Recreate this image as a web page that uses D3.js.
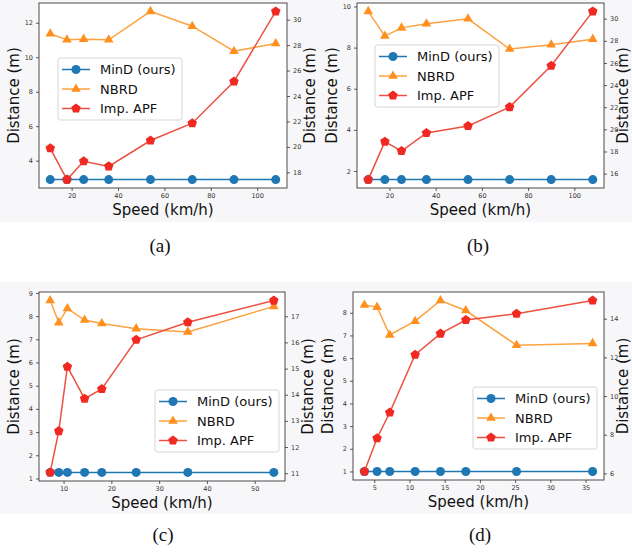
<!DOCTYPE html>
<html>
<head>
<meta charset="utf-8">
<script src="https://cdn.jsdelivr.net/npm/d3@7"></script>
<style>
  body { margin: 0; background: #fff; }
  svg { display: block; }
</style>
</head>
<body>
<svg id="fig" width="632" height="552"></svg>
<script>
// speeds (km/h) for each panel
const speedsAB = [10.8, 18, 25.2, 36, 54, 72, 90, 108];
const speedsC = [7.2, 9, 10.8, 14.4, 18, 25.2, 36, 54];
const speedsD = [3.6, 5.4, 7.2, 10.8, 14.4, 18, 25.2, 36];

// MinD (ours) - left axis
const mindA = [2.9, 2.9, 2.9, 2.9, 2.9, 2.9, 2.9, 2.9];
const mindB = [1.58, 1.58, 1.58, 1.58, 1.58, 1.58, 1.58, 1.58];
const mindC = [1.26, 1.26, 1.26, 1.26, 1.26, 1.26, 1.26, 1.26];
const mindD = [1.0, 1.0, 1.0, 1.0, 1.0, 1.0, 1.0, 1.0];

// NBRD - left axis
const nbrdA = [11.36, 11.01, 11.05, 11.01, 12.66, 11.8, 10.35, 10.8];
const nbrdB = [9.76, 8.56, 8.96, 9.16, 9.4, 7.93, 8.14, 8.41];
const nbrdC = [8.67, 7.72, 8.33, 7.83, 7.68, 7.46, 7.32, 8.42];
const nbrdD = [8.34, 8.25, 7.02, 7.63, 8.54, 8.1, 6.57, 6.65];

// Imp. APF - right axis
const apfA = [19.89, 17.43, 18.87, 18.47, 20.5, 21.86, 25.14, 30.65];
const apfB = [15.46, 18.89, 18.04, 19.67, 20.3, 22.01, 25.75, 30.66];
const apfC = [11.03, 12.61, 15.07, 13.85, 14.22, 16.1, 16.77, 17.6];
const apfD = [6.1, 7.82, 9.15, 12.14, 13.23, 13.93, 14.26, 14.94];

// tick labels
const xTicksAB = [20, 40, 60, 80, 100];
const xTicksC = [10, 20, 30, 40, 50];
const xTicksD = [5, 10, 15, 20, 25, 30, 35];
const leftTicksA = [4, 6, 8, 10, 12];
const leftTicksB = [2, 4, 6, 8, 10];
const leftTicksC = [1, 2, 3, 4, 5, 6, 7, 8, 9];
const leftTicksD = [1, 2, 3, 4, 5, 6, 7, 8];
const rightTicksA = [18, 20, 22, 24, 26, 28, 30];
const rightTicksB = [16, 18, 20, 22, 24, 26, 28, 30];
const rightTicksC = [11, 12, 13, 14, 15, 16, 17];
const rightTicksD = [6, 8, 10, 12, 14];

const seriesNames = ['MinD (ours)', 'NBRD', 'Imp. APF'];
const captions = ['(a)', '(b)', '(c)', '(d)'];

const blue = '#1f77b4', orange = '#ff8f1f', red = '#f02a22';
const orangeLine = '#fca23f', redLine = '#ec5040';
const font = '"DejaVu Sans", sans-serif';

// panel boxes (plot area) and extras
const panels = [
  { speeds: speedsAB, mind: mindA, nbrd: nbrdA, apf: apfA, xt: xTicksAB, lt: leftTicksA, rt: rightTicksA,
    l: 39, r: 287, t: 3, b: 188, rl: 28, bg: [0, 0, 316, 222], leg: [58, 58], cap: [160, 252] },
  { speeds: speedsAB, mind: mindB, nbrd: nbrdB, apf: apfB, xt: xTicksAB, lt: leftTicksB, rt: rightTicksB,
    l: 357, r: 604, t: 3, b: 188, rl: 24, bg: [316, 0, 316, 222], leg: [375, 45], cap: [478, 252] },
  { speeds: speedsC, mind: mindC, nbrd: nbrdC, apf: apfC, xt: xTicksC, lt: leftTicksC, rt: rightTicksC,
    l: 39, r: 285, t: 292, b: 481, rl: 28, bg: [0, 282, 316, 232], leg: [155, 390], cap: [163, 541] },
  { speeds: speedsD, mind: mindD, nbrd: nbrdD, apf: apfD, xt: xTicksD, lt: leftTicksD, rt: rightTicksD,
    l: 353, r: 604, t: 292, b: 480, rl: 24, bg: [316, 282, 316, 232], leg: [473, 387], cap: [480, 541] }
];

const svg = d3.select('#fig');

// matplotlib-like 5% margins
function padded(ext) {
  const m = (ext[1] - ext[0]) * 0.05;
  return [ext[0] - m, ext[1] + m];
}

// marker shapes
const triangle = {
  draw(ctx, size) {
    const r = Math.sqrt(size) * 0.62;
    ctx.moveTo(0, -r);
    ctx.lineTo(r * 0.866, r * 0.5);
    ctx.lineTo(-r * 0.866, r * 0.5);
    ctx.closePath();
  }
};
const pentagon = {
  draw(ctx, size) {
    const r = Math.sqrt(size) * 0.56;
    for (let i = 0; i < 5; i++) {
      const a = -Math.PI / 2 + i * 2 * Math.PI / 5;
      if (i === 0) ctx.moveTo(r * Math.cos(a), r * Math.sin(a));
      else ctx.lineTo(r * Math.cos(a), r * Math.sin(a));
    }
    ctx.closePath();
  }
};

const styles = [
  { line: blue, fill: blue, sym: d3.symbol(d3.symbolCircle, 64) },
  { line: orangeLine, fill: orange, sym: d3.symbol(triangle, 80) },
  { line: redLine, fill: red, sym: d3.symbol(pentagon, 80) }
];

function styleTicks(sel) {
  sel.select('.domain').remove();
  sel.selectAll('line').attr('stroke', '#333').attr('stroke-width', 0.8);
  sel.selectAll('text').attr('font-size', '6.5px').attr('font-family', font).attr('fill', '#333');
}

panels.forEach((p, i) => {
  const g = svg.append('g');

  g.append('rect')
    .attr('x', p.bg[0]).attr('y', p.bg[1])
    .attr('width', p.bg[2]).attr('height', p.bg[3])
    .attr('fill', '#f7f7f9');
  g.append('rect')
    .attr('x', p.l).attr('y', p.t)
    .attr('width', p.r - p.l).attr('height', p.b - p.t)
    .attr('fill', '#fff');

  const x = d3.scaleLinear().domain(padded(d3.extent(p.speeds))).range([p.l, p.r]);
  const yL = d3.scaleLinear().domain(padded(d3.extent(p.mind.concat(p.nbrd)))).range([p.b, p.t]);
  const yR = d3.scaleLinear().domain(padded(d3.extent(p.apf))).range([p.b, p.t]);

  g.append('g').attr('transform', `translate(0,${p.b})`)
    .call(d3.axisBottom(x).tickValues(p.xt).tickSize(3).tickPadding(2))
    .call(styleTicks);
  g.append('g').attr('transform', `translate(${p.l},0)`)
    .call(d3.axisLeft(yL).tickValues(p.lt).tickSize(3).tickPadding(3))
    .call(styleTicks);
  g.append('g').attr('transform', `translate(${p.r},0)`)
    .call(d3.axisRight(yR).tickValues(p.rt).tickSize(3).tickPadding(3))
    .call(styleTicks);

  // spines
  g.append('rect')
    .attr('x', p.l).attr('y', p.t)
    .attr('width', p.r - p.l).attr('height', p.b - p.t)
    .attr('fill', 'none').attr('stroke', '#3b3535').attr('stroke-width', 0.9);

  const sets = [
    { vals: p.mind, y: yL },
    { vals: p.nbrd, y: yL },
    { vals: p.apf, y: yR }
  ];
  sets.forEach((s, k) => {
    const pts = p.speeds.map((v, j) => [x(v), s.y(s.vals[j])]);
    g.append('path')
      .attr('d', d3.line()(pts))
      .attr('fill', 'none')
      .attr('stroke', styles[k].line)
      .attr('stroke-width', 1.5);
    g.selectAll(null).data(pts).join('path')
      .attr('transform', d => `translate(${d[0]},${d[1]})`)
      .attr('d', styles[k].sym())
      .attr('fill', styles[k].fill);
  });

  // axis labels
  g.append('text')
    .attr('x', (p.l + p.r) / 2).attr('y', p.b + 27)
    .attr('text-anchor', 'middle')
    .attr('font-family', font).attr('font-size', '15px').attr('fill', '#111')
    .text('Speed (km/h)');
  g.append('text')
    .attr('transform', `translate(${p.l - 20},${(p.t + p.b) / 2}) rotate(-90)`)
    .attr('text-anchor', 'middle')
    .attr('font-family', font).attr('font-size', '15px').attr('fill', '#111')
    .text('Distance (m)');
  g.append('text')
    .attr('transform', `translate(${p.r + p.rl},${(p.t + p.b) / 2}) rotate(-90)`)
    .attr('text-anchor', 'middle')
    .attr('font-family', font).attr('font-size', '15px').attr('fill', '#111')
    .text('Distance (m)');

  // legend
  const lg = g.append('g').attr('transform', `translate(${p.leg[0]},${p.leg[1]})`);
  lg.append('rect')
    .attr('width', 124).attr('height', 62).attr('rx', 2.5)
    .attr('fill', '#fff').attr('fill-opacity', 0.85)
    .attr('stroke', '#d0d0d0').attr('stroke-width', 0.9);
  seriesNames.forEach((name, k) => {
    const yy = 11.5 + k * 19.5;
    lg.append('line')
      .attr('x1', 4).attr('x2', 32).attr('y1', yy).attr('y2', yy)
      .attr('stroke', styles[k].line).attr('stroke-width', 1.5);
    lg.append('path')
      .attr('transform', `translate(18,${yy})`)
      .attr('d', styles[k].sym())
      .attr('fill', styles[k].fill);
    lg.append('text')
      .attr('x', 42).attr('y', yy + 4.6)
      .attr('font-family', font).attr('font-size', '13px').attr('fill', '#111')
      .text(name);
  });

  // caption
  svg.append('text')
    .attr('x', p.cap[0]).attr('y', p.cap[1])
    .attr('text-anchor', 'middle')
    .attr('font-family', '"Liberation Serif", serif').attr('font-size', '19px').attr('fill', '#111')
    .text(captions[i]);
});
</script>
</body>
</html>
